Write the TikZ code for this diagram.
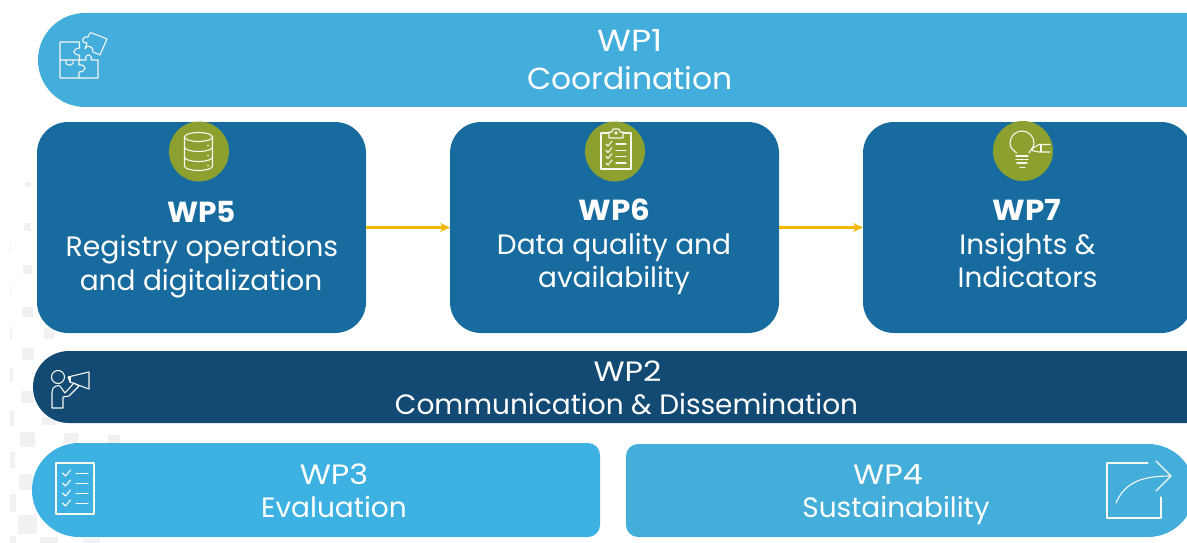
\documentclass[tikz,border=0pt]{standalone}
\usepackage{fontspec}
\setmainfont{Poppins}
\usetikzlibrary{arrows.meta}
\definecolor{cWPa}{HTML}{43ADDC}
\definecolor{cWPb}{HTML}{124A73}
\definecolor{cWPc}{HTML}{3EB1E3}
\definecolor{cWPd}{HTML}{43AEDA}
\definecolor{cMid}{HTML}{176B9E}
\definecolor{cOlive}{HTML}{8BA02F}
\definecolor{cArrow}{HTML}{F5B800}
\definecolor{cSpeck}{HTML}{F1F1F1}
\newcommand{\wplabel}[1]{\scalebox{1.14}[1]{#1}}
\newcommand{\wpboldlabel}[1]{\scalebox{1.07}[1]{#1}}
\tikzset{
  x=1pt,y=-1pt,
  midbox/.style={fill=cMid,rounded corners=31pt,minimum width=329pt,minimum height=211pt,inner sep=0pt,outer sep=0pt},
  badge/.style={circle,fill=cOlive,minimum size=60pt,inner sep=0pt},
  wptext/.style={text=white,font=\fontsize{28}{28}\selectfont,inner sep=0pt,anchor=base},
  wplarge/.style={text=white,font=\fontsize{30.5}{30.5}\selectfont,inner sep=0pt,anchor=base},
  wpbold/.style={text=white,font=\fontsize{29}{29}\selectfont\bfseries,inner sep=0pt,anchor=base},
  icon/.style={draw=white!92!cOlive,line width=1.1pt,line join=round,line cap=round},
  link/.style={draw=cArrow,line width=2.4pt,-{Stealth[length=10pt,width=9pt]}},
  speck/.style={fill=cSpeck}
}
\begin{document}
\begin{tikzpicture}
\useasboundingbox (0,0) rectangle (1187,543);
% faint background squares
\foreach \a/\b/\c/\d in {25/182/31/187,24/223/31/231,23/265/32/274,22/307/33/317,44/328/54/339,22/348/34/360,10/243/11/252,10/286/11/296,10/327/12/339,21/391/33/403,10/369/13/382,10/411/14/426,20/432/35/447,64/433/78/443,108/435/120/443,10/452/15/468,19/474/32/490,10/494/16/512,18/515/37/534,10/536/16/543,40/537/58/543,83/539/100/543,42/417/57/425}
  \fill[speck] (\a,\b) rectangle (\c,\d);
% bands
\fill[cWPa] (1230,13) -- (85,13) arc[start angle=90,end angle=270,x radius=47,y radius=-47] -- (1230,107) -- cycle;
\fill[cWPb] (1230,351) -- (69,351) arc[start angle=90,end angle=270,x radius=36,y radius=-36] -- (1230,423) -- cycle;
\fill[cWPc] (79,443) arc[start angle=90,end angle=270,x radius=47,y radius=-47] -- (588,537) arc[start angle=-90,end angle=0,x radius=12,y radius=-12] -- (600,455) arc[start angle=0,end angle=90,x radius=12,y radius=-12] -- cycle;
\fill[cWPd] (638,444) -- (1148,444) arc[start angle=90,end angle=-90,x radius=46.5,y radius=-46.5] -- (638,537) arc[start angle=270,end angle=180,x radius=12,y radius=-12] -- (626,456) arc[start angle=180,end angle=90,x radius=12,y radius=-12] -- cycle;
% middle boxes
\node[midbox] (wpfive) at (201.5,227.5) {};
\node[midbox] (wpsix) at (614.5,227.5) {};
\node[midbox] (wpseven) at (1027.5,227.5) {};
\draw[link] (wpfive.east) -- (wpsix.west);
\draw[link] (wpsix.east) -- (wpseven.west);
% badges
\node[badge] (bfive) at (199,151.5) {};
\node[badge] (bsix) at (615,151.5) {};
\node[badge] (bseven) at (1023,151) {};
% texts
\node[wplarge] (tonea) at (630.5,52) {\wplabel{WP1}};
\node[wplarge] (toneb) at (630,89) {\scalebox{1.03}[1]{Coordination}};
\node[wpbold] (tfivea) at (201.5,222) {\scalebox{1.02}[1]{WP5}};
\node[wptext] (tfiveb) at (202,256) {\scalebox{1.01}[1]{Registry operations}};
\node[wptext] (tfivec) at (201,290) {and digitalization};
\node[wpbold] (tsixa) at (614.5,220) {\wpboldlabel{WP6}};
\node[wptext] (tsixb) at (614,254) {Data quality and};
\node[wptext] (tsixc) at (614,287) {availability};
\node[wpbold] (tsevena) at (1027,220) {\wpboldlabel{WP7}};
\node[wptext] (tsevenb) at (1027.5,254) {Insights \&};
\node[wptext] (tsevenc) at (1027.5,287) {Indicators};
\node[wptext] (ttwoa) at (627.5,381) {\wplabel{WP2}};
\node[wptext] (ttwob) at (626.5,414) {Communication \& Dissemination};
\node[wptext] (tthreea) at (334,484) {\wplabel{WP3}};
\node[wptext] (tthreeb) at (334,517) {Evaluation};
\node[wptext] (tfoura) at (888,484) {\wplabel{WP4}};
\node[wptext] (tfourb) at (896,517) {Sustainability};
% puzzle icon
\draw[icon] (60,42) -- (79.5,42) -- (79.5,48) .. controls (72,49) and (72,55) .. (79.5,55) -- (79.5,60)
  (60,42) -- (60,78) -- (98,78) -- (98,60) -- (91,60) .. controls (93,53) and (84,53) .. (86,60) -- (66,60)
  (60,60) -- (66,60) .. controls (64,67) and (75,67) .. (73,60) -- (79,60) -- (79,65) .. controls (87,64) and (87,72) .. (79,72) -- (79,78);
\draw[icon] (92,33) -- (107,39) -- (100,55) -- (93,52) .. controls (94,46) and (86,44) .. (85,49) -- (87,43) .. controls (81,44) and (81,36) .. (88,37) -- (90,33) -- cycle;
% database icon
\draw[icon] (198.5,137) ellipse[x radius=14,y radius=4.5];
\draw[icon] (184.5,137) -- (184.5,166) arc[start angle=180,end angle=360,x radius=14,y radius=-4.5] -- (212.5,137);
\draw[icon] (184.5,147) arc[start angle=180,end angle=360,x radius=14,y radius=-4.5];
\draw[icon] (184.5,157) arc[start angle=180,end angle=360,x radius=14,y radius=-4.5];
\fill[white] (208,145.5) circle[radius=.9] (208,155.5) circle[radius=.9] (208,165.5) circle[radius=.9];
% clipboard icon
\draw[icon] (609,133) -- (601,133) -- (601,169) -- (631,169) -- (631,133) -- (623,133);
\draw[icon] (609,138) -- (609,132) -- (612,132) -- (613,129) -- (619,129) -- (620,132) -- (623,132) -- (623,138) -- cycle;
\draw[icon] (616,133) circle[radius=1.2];
\foreach \y in {144,150.5,156.5,163} {
  \draw[icon] (606,\y) -- (608,\y+2) -- (612,\y-3);
  \draw[icon] (616,\y) -- (626,\y);
}
% bulb icon
\draw[icon] (1016.5,153) .. controls (1014,150) and (1010,149) .. (1010,143) arc[start angle=180,end angle=0,radius=12,y radius=-12] .. controls (1034,147) and (1031,149) .. (1029,153);
\draw[icon] (1016,156) -- (1028,156) (1016,159.5) -- (1028,159.5) (1017,163) -- (1027,163);
\draw[icon] (1020,167.5) -- (1025,167.5);
\draw[icon] (1050,144.5) -- (1039,144.5) -- (1033,148) -- (1032,150.5) -- (1039,152) -- (1050,152);
\draw[icon] (1041,144.5) -- (1041,152);
% megaphone icon
\draw[icon] (58,377) circle[radius=6.5];
\draw[icon] (52,408) -- (63,408) -- (63,397) -- (69,396) -- (79,386) -- (74,383) -- (65,393) -- (60,386) .. controls (58,385) and (52,386) .. (52,392) -- cycle;
\draw[icon] (68,377) -- (89,372) -- (89,389) -- (70,382) -- cycle;
\draw[icon] (70,376.5) -- (70,382);
% list icon
\draw[icon] (56,463) rectangle (94,514);
\foreach \y in {473,483,493,503} {
  \draw[icon] (62.5,\y) -- (65.5,\y+3) -- (70.5,\y-3);
  \draw[icon] (76,\y+0.5) -- (88,\y+0.5);
}
% share icon
\draw[icon] (1148,463) -- (1107,463) -- (1107,518) -- (1161,518) -- (1161,497);
\draw[icon] (1156,461) -- (1171,476) -- (1156,491);
\draw[icon] (1116,503) .. controls (1125,482) and (1142,476) .. (1171,476);
\end{tikzpicture}
\end{document}
